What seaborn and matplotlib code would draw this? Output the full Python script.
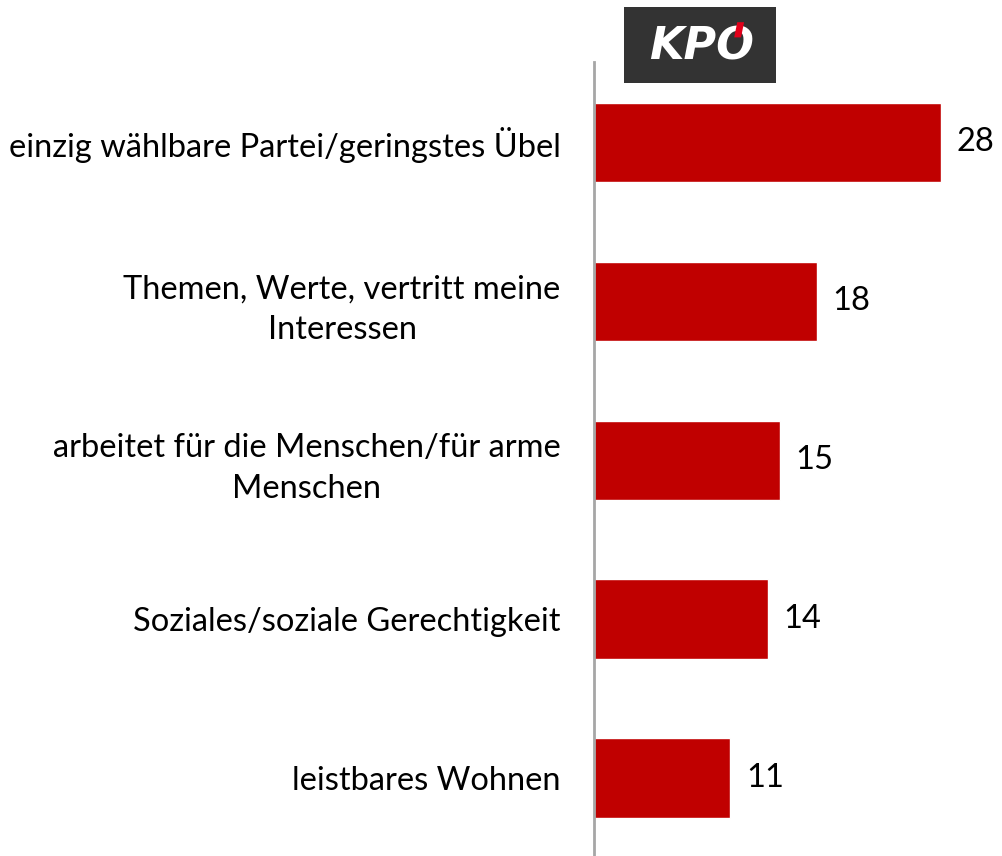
import matplotlib
matplotlib.use('Agg')
import matplotlib.pyplot as plt
import seaborn as sns
import pandas as pd

categories = [
    'einzig wählbare Partei/geringstes Übel',
    'Themen, Werte, vertritt meine\nInteressen',
    'arbeitet für die Menschen/für arme\nMenschen',
    'Soziales/soziale Gerechtigkeit',
    'leistbares Wohnen',
]
values = [28, 18, 15, 14, 11]

BAR_RED = '#C00000'
FS = 23.5

sns.set_style('white')
plt.rcParams['font.family'] = ['Lato', 'DejaVu Sans']

df = pd.DataFrame({'reason': categories, 'pct': values})

fig = plt.figure(figsize=(10.02, 8.56), dpi=100)
ax = fig.add_axes([594 / 1002, 0, 408 / 1002, 1 - 62 / 856])

sns.barplot(data=df, x='pct', y='reason', orient='h', color=BAR_RED,
            saturation=1, width=0.5, ax=ax)

ax.set_xlim(0, 408 / 12.4)
ax.set_ylim(4.49, -0.506)

for i, v in enumerate(values):
    ax.text(v + 1.25, i, str(v), va='center', ha='left', fontsize=FS, color='black')

ax.set_xlabel('')
ax.set_ylabel('')
ax.set_xticks([])
ax.tick_params(axis='y', length=0, pad=24, labelsize=FS, labelcolor='black')
for lbl in ax.get_yticklabels():
    lbl.set_multialignment('center')
    lbl.set_linespacing(1.45)

for side in ['top', 'right', 'bottom']:
    ax.spines[side].set_visible(False)
ax.spines['left'].set_color('#A6A6A6')
ax.spines['left'].set_linewidth(2)

# party logo box
logo = fig.add_axes([624 / 1002, 1 - 83 / 856, 152 / 1002, 76 / 856])
logo.set_facecolor('#333333')
logo.set_xticks([])
logo.set_yticks([])
for s in logo.spines.values():
    s.set_visible(False)
logo.set_xlim(0, 1)
logo.set_ylim(0, 1)
logo.text(0.51, 0.47, 'KPO', color='white', fontsize=32, fontweight='heavy',
          fontstyle='italic', ha='center', va='center', family='DejaVu Sans')
logo.fill([0.745, 0.79, 0.77, 0.725], [0.80, 0.80, 0.60, 0.60], color='#E2001A',
          linewidth=0, zorder=5)

fig.savefig('out.png', dpi=100)
